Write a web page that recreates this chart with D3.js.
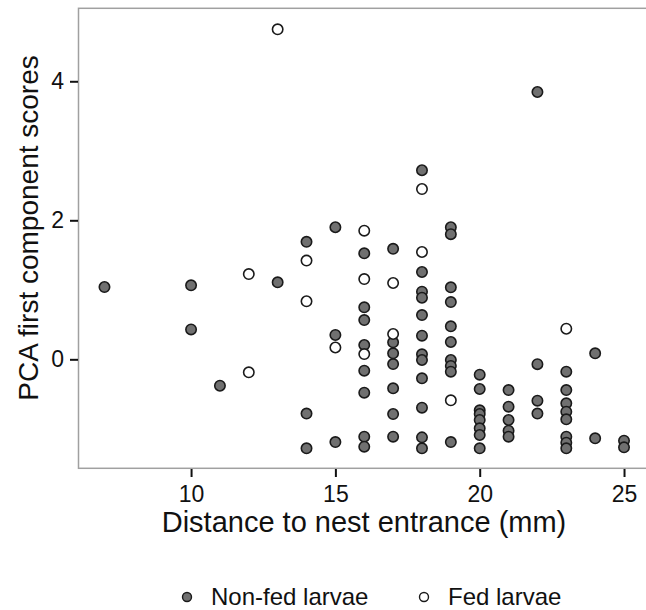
<!DOCTYPE html>
<html>
<head>
<meta charset="utf-8">
<script src="https://cdnjs.cloudflare.com/ajax/libs/d3/7.8.5/d3.min.js"></script>
<style>
body { margin: 0; background: #fff; }
text { font-family: "Liberation Sans", Arial, sans-serif; }
</style>
</head>
<body>
<script>
// distance (mm) and PCA score, one array per group
var nonFedX = [7, 10, 10, 11, 13, 14, 14, 14, 15, 15, 15,
	16, 16, 16, 16, 16, 16, 16, 16,
	17, 17, 17, 17, 17, 17, 17,
	18, 18, 18, 18, 18, 18, 18, 18, 18, 18, 18, 18,
	19, 19, 19, 19, 19, 19, 19, 19, 19, 19,
	20, 20, 20, 20, 20, 20, 20, 20,
	21, 21, 21, 21, 21,
	22, 22, 22, 22,
	23, 23, 23, 23, 23, 23, 23, 23,
	24, 24, 25, 25];
var nonFedY = [1.04, 1.065, 0.43, -0.38, 1.108, 1.69, -0.78, -1.28, 1.90, 0.35, -1.19,
	1.525, 0.748, 0.565, 0.206, -0.164, -0.48, -1.113, -1.257,
	1.59, 0.245, 0.086, -0.068, -0.418, -0.787, -1.113,
	2.72, 1.256, 0.973, 0.886, 0.637, 0.34, 0.072, -0.01, -0.274, -0.696, -1.123, -1.28,
	1.90, 1.80, 1.036, 0.824, 0.475, 0.249, -0.01, -0.096, -0.178, -1.19,
	-0.221, -0.427, -0.734, -0.787, -0.873, -0.993, -1.089, -1.28,
	-0.442, -0.682, -0.873, -1.027, -1.113,
	3.846, -0.07, -0.595, -0.78,
	-0.178, -0.442, -0.633, -0.754, -0.863, -1.113, -1.2, -1.28,
	0.086, -1.137, -1.171, -1.266];

var fedX = [12, 12, 13, 14, 14, 15, 16, 16, 16, 17, 17, 18, 18, 19, 23];
var fedY = [1.227, -0.187, 4.748, 1.42, 0.835, 0.17, 1.85, 1.155, 0.076, 1.098, 0.364, 2.45, 1.544, -0.59, 0.44];

var xTicks = [10, 15, 20, 25];
var yTicks = [0, 2, 4];
var groups = ["Non-fed larvae", "Fed larvae"];
var fills = ["#707070", "#ffffff"];

var width = 646, height = 610;

var svg = d3.select("body").append("svg")
	.attr("width", width).attr("height", height);

var x = d3.scaleLinear().domain([6.1, 25.9]).range([78.5, 650]);
var y = d3.scaleLinear().domain([-1.568, 5.05]).range([468.3, 8.3]);

// panel border
svg.append("rect").attr("x", 78.5).attr("y", 8.3).attr("width", 650 - 78.5).attr("height", 460)
	.attr("fill", "none").attr("stroke", "#a0a0a0").attr("stroke-width", 1.5);

var xAxis = svg.append("g").attr("transform", "translate(0,469)")
	.call(d3.axisBottom(x).tickValues(xTicks).tickFormat(d3.format("d")).tickSize(8).tickPadding(9));
var yAxis = svg.append("g").attr("transform", "translate(78,0)")
	.call(d3.axisLeft(y).tickValues(yTicks).tickFormat(d3.format("d")).tickSize(8).tickPadding(6));

[xAxis, yAxis].forEach(function(a) {
	a.attr("font-size", 23).attr("font-family", "'Liberation Sans', Arial, sans-serif");
	a.select(".domain").remove();
	a.selectAll("line").attr("stroke", "#111").attr("stroke-width", 2);
	a.selectAll("text").attr("fill", "#111");
});

function drawPoints(xs, ys, fill) {
	svg.append("g").selectAll("circle")
		.data(xs.map(function(d, i) { return [d, ys[i]]; }))
		.enter().append("circle")
		.attr("cx", function(d) { return x(d[0]); })
		.attr("cy", function(d) { return y(d[1]); })
		.attr("r", 5.2)
		.attr("fill", fill)
		.attr("stroke", "#1a1a1a").attr("stroke-width", 1.6);
}
drawPoints(nonFedX, nonFedY, fills[0]);
drawPoints(fedX, fedY, fills[1]);

// axis titles
svg.append("text").attr("x", 364).attr("y", 532).attr("text-anchor", "middle")
	.style("font-size", "29px").attr("fill", "#111").text("Distance to nest entrance (mm)");
svg.append("text").attr("transform", "translate(38,228) rotate(-90)").attr("text-anchor", "middle")
	.style("font-size", "28px").attr("fill", "#111").text("PCA first component scores");

// legend
var legX = [187, 424];
groups.forEach(function(g, i) {
	svg.append("circle").attr("cx", legX[i]).attr("cy", 597).attr("r", 4.5)
		.attr("fill", fills[i]).attr("stroke", "#1a1a1a").attr("stroke-width", 1.4);
	svg.append("text").attr("x", legX[i] + 24).attr("y", 605)
		.style("font-size", "24px").attr("fill", "#111").text(g);
});
</script>
</body>
</html>
